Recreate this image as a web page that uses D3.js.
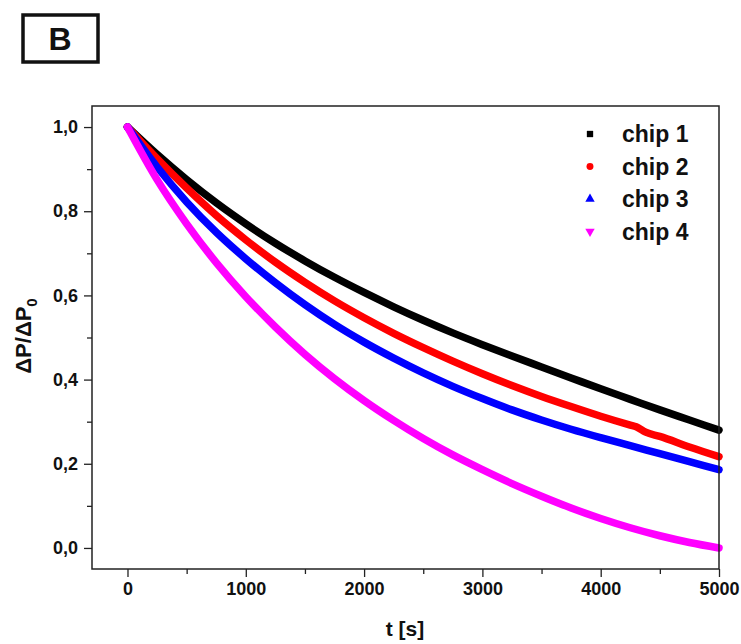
<!DOCTYPE html>
<html>
<head>
<meta charset="utf-8">
<script src="https://cdn.jsdelivr.net/npm/d3@7"></script>
<style>
  html, body { margin: 0; padding: 0; background: #fff; }
  svg { display: block; }
  text { font-family: "Liberation Sans", Arial, sans-serif; font-weight: bold; fill: #111; }
</style>
</head>
<body>
<svg id="chart" width="741" height="644"></svg>
<script>
// Normalised pressure drop decay for four chips
const seriesNames = ["chip 1", "chip 2", "chip 3", "chip 4"];
const seriesColors = ["#000000", "#ff0000", "#0000ff", "#ff00ff"];

const timeGrid = [0, 250, 500, 750, 1000, 1250, 1500, 1750, 2000, 2250, 2500,
                  2750, 3000, 3250, 3500, 3750, 4000, 4250, 4500, 4750, 5000];
const chip2Time = [0, 250, 500, 750, 1000, 1250, 1500, 1750, 2000, 2250, 2500,
                   2750, 3000, 3250, 3500, 3750, 4000, 4250, 4300, 4380, 4500, 4750, 5000];

const chip1 = [1.000, 0.935, 0.875, 0.820, 0.770, 0.724, 0.682, 0.643, 0.607, 0.573, 0.541,
               0.511, 0.483, 0.456, 0.430, 0.404, 0.378, 0.353, 0.328, 0.304, 0.280];
const chip2 = [1.000, 0.925, 0.855, 0.790, 0.732, 0.679, 0.631, 0.587, 0.547, 0.510, 0.476,
               0.444, 0.414, 0.386, 0.360, 0.336, 0.313, 0.292, 0.288, 0.275, 0.265, 0.240, 0.217];
const chip3 = [1.000, 0.905, 0.822, 0.750, 0.687, 0.630, 0.578, 0.531, 0.489, 0.451, 0.416,
               0.384, 0.355, 0.328, 0.304, 0.282, 0.262, 0.243, 0.224, 0.205, 0.186];
const chip4 = [1.000, 0.875, 0.770, 0.678, 0.597, 0.525, 0.460, 0.402, 0.350, 0.303, 0.260,
               0.221, 0.186, 0.153, 0.123, 0.095, 0.070, 0.048, 0.029, 0.013, 0.000];

const xMajorTicks = [0, 1000, 2000, 3000, 4000, 5000];
const xMinorTicks = [500, 1500, 2500, 3500, 4500];
const yMajorTicks = [0.0, 0.2, 0.4, 0.6, 0.8, 1.0];
const yMinorTicks = [0.1, 0.3, 0.5, 0.7, 0.9];

const seriesData = [
  { name: seriesNames[0], color: seriesColors[0], t: timeGrid, v: chip1, symbol: d3.symbolSquare, rot: 0 },
  { name: seriesNames[1], color: seriesColors[1], t: chip2Time, v: chip2, symbol: d3.symbolCircle, rot: 0 },
  { name: seriesNames[2], color: seriesColors[2], t: timeGrid, v: chip3, symbol: d3.symbolTriangle, rot: 0 },
  { name: seriesNames[3], color: seriesColors[3], t: timeGrid, v: chip4, symbol: d3.symbolTriangle, rot: 180 }
];

const svg = d3.select("#chart");
const plot = { left: 92, right: 719, top: 106, bottom: 569 };

const x = d3.scaleLinear().domain([-300, 5000]).range([plot.left, plot.right]);
const y = d3.scaleLinear().domain([-0.05, 1.05]).range([plot.bottom, plot.top]);

const commaFmt = d => d.toFixed(1).replace(".", ",");

// x axis
const gx = svg.append("g").attr("transform", `translate(0,${plot.bottom})`)
  .call(d3.axisBottom(x).tickValues(xMajorTicks).tickFormat(d3.format("d")).tickSize(8).tickSizeOuter(0).tickPadding(5));
svg.append("g").attr("transform", `translate(0,${plot.bottom})`)
  .call(d3.axisBottom(x).tickValues(xMinorTicks).tickFormat("").tickSize(5).tickSizeOuter(0));

// y axis
const gy = svg.append("g").attr("transform", `translate(${plot.left},0)`)
  .call(d3.axisLeft(y).tickValues(yMajorTicks).tickFormat(commaFmt).tickSize(8).tickSizeOuter(0).tickPadding(6));
svg.append("g").attr("transform", `translate(${plot.left},0)`)
  .call(d3.axisLeft(y).tickValues(yMinorTicks).tickFormat("").tickSize(5).tickSizeOuter(0));

svg.selectAll(".domain").remove();
svg.selectAll(".tick line").attr("stroke", "#222").attr("stroke-width", 1.3);
gx.selectAll("text").attr("font-size", 18).attr("fill", "#111");
gy.selectAll("text").attr("font-size", 18).attr("fill", "#111");

// data curves
const line = d3.line().x(d => x(d[0])).y(d => y(d[1])).curve(d3.curveMonotoneX);
const curves = svg.append("g");
seriesData.forEach(s => {
  curves.append("path")
    .datum(s.t.map((t, i) => [t, s.v[i]]))
    .attr("d", line)
    .attr("fill", "none")
    .attr("stroke", s.color)
    .attr("stroke-width", 7.5)
    .attr("stroke-linecap", "round")
    .attr("stroke-linejoin", "round");
});

// frame
svg.append("rect")
  .attr("x", plot.left).attr("y", plot.top)
  .attr("width", plot.right - plot.left).attr("height", plot.bottom - plot.top)
  .attr("fill", "none").attr("stroke", "#222").attr("stroke-width", 1.5);

// axis titles
svg.append("text")
  .attr("x", 405).attr("y", 636)
  .attr("text-anchor", "middle").attr("font-size", 21)
  .text("t [s]");

const yTitle = svg.append("text")
  .attr("transform", "translate(31,336) rotate(-90)")
  .attr("text-anchor", "middle").attr("font-size", 22);
yTitle.append("tspan").text("ΔP/ΔP");
yTitle.append("tspan").attr("font-size", 15).attr("dy", 6).text("0");

// legend
const legend = svg.append("g");
seriesData.forEach((s, i) => {
  const cy = 134 + i * 32.5;
  legend.append("path")
    .attr("d", d3.symbol().type(s.symbol).size(s.symbol === d3.symbolSquare ? 40 : 38)())
    .attr("transform", `translate(590,${cy}) rotate(${s.rot})`)
    .attr("fill", s.color);
  legend.append("text")
    .attr("x", 622).attr("y", cy + 8)
    .attr("font-size", 23)
    .text(s.name);
});

// panel label
svg.append("rect")
  .attr("x", 23).attr("y", 15).attr("width", 75).attr("height", 47)
  .attr("fill", "none").attr("stroke", "#111").attr("stroke-width", 3.5);
svg.append("text")
  .attr("x", 60).attr("y", 50)
  .attr("text-anchor", "middle").attr("font-size", 32)
  .text("B");
</script>
</body>
</html>
